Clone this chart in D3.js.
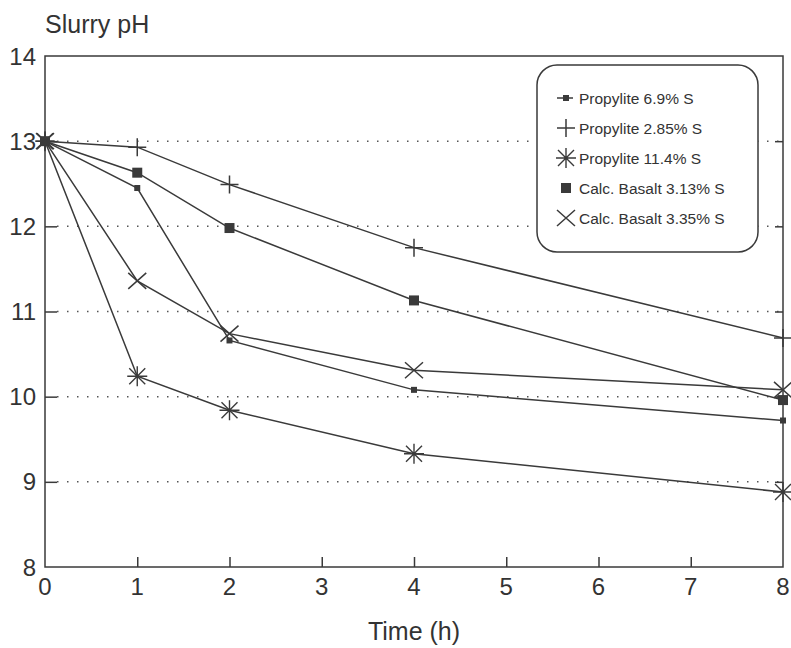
<!DOCTYPE html>
<html><head><meta charset="utf-8">
<script src="https://cdn.jsdelivr.net/npm/d3@7"></script>
<style>
html,body{margin:0;padding:0;background:#fff;}
svg{display:block;font-family:"Liberation Sans",Arial,Helvetica,sans-serif;}
</style></head>
<body><svg id="c" width="791" height="648"></svg>
<script>
const times = [0, 1, 2, 4, 8];
const seriesNames = ["Propylite 6.9% S","Propylite 2.85% S","Propylite 11.4% S","Calc. Basalt 3.13% S","Calc. Basalt 3.35% S"];
const markerTypes = ["smallSquare","plus","asterisk","bigSquare","cross"];
const propylite69 = [13.0, 12.45, 10.66, 10.08, 9.72];
const propylite285 = [13.0, 12.93, 12.49, 11.75, 10.69];
const propylite114 = [13.0, 10.24, 9.84, 9.33, 8.88];
const basalt313 = [13.0, 12.63, 11.98, 11.13, 9.96];
const basalt335 = [13.0, 11.36, 10.74, 10.31, 10.08];
const allValues = [propylite69, propylite285, propylite114, basalt313, basalt335];
const xTicks = [0,1,2,3,4,5,6,7,8];
const yTicks = [8,9,10,11,12,13,14];
const gridValues = [9,10,11,12,13];

const svg = d3.select("#c");
const ink = "#3a3a3a";
const x = d3.scaleLinear().domain([0,8]).range([45,783]);
const y = d3.scaleLinear().domain([8,14]).range([567,56]);

// gridlines (dotted)
svg.append("g").selectAll("line").data(gridValues).join("line")
  .attr("x1", x(0)+12).attr("x2", x(8)-4)
  .attr("y1", d=>y(d)).attr("y2", d=>y(d))
  .attr("stroke","#555").attr("stroke-width",1.5)
  .attr("stroke-dasharray","1.5,8.5").attr("stroke-linecap","butt");

// frame
svg.append("rect").attr("x",x(0)).attr("y",y(14)).attr("width",x(8)-x(0)).attr("height",y(8)-y(14))
  .attr("fill","none").attr("stroke",ink).attr("stroke-width",1.5);

// y axis (inward ticks) left and right
const yAxisL = d3.axisRight(y).tickValues(gridValues).tickSize(12).tickFormat("");
svg.append("g").attr("transform",`translate(${x(0)},0)`).call(yAxisL)
  .call(g=>{g.select(".domain").remove(); g.selectAll("line").attr("stroke",ink).attr("stroke-width",1.5);});
const yAxisR = d3.axisLeft(y).tickValues(gridValues).tickSize(8).tickFormat("");
svg.append("g").attr("transform",`translate(${x(8)},0)`).call(yAxisR)
  .call(g=>{g.select(".domain").remove(); g.selectAll("line").attr("stroke",ink).attr("stroke-width",1.5);});
// y tick labels
svg.append("g").selectAll("text").data(yTicks).join("text")
  .attr("x",36).attr("y",d=>y(d)+8.5).attr("text-anchor","end")
  .attr("font-size",24).attr("fill","#333").text(d=>d);

// x axis ticks inward
const xAxis = d3.axisTop(x).tickValues([1,2,3,4,5,6,7]).tickSize(10).tickFormat("");
svg.append("g").attr("transform",`translate(0,${y(8)})`).call(xAxis)
  .call(g=>{g.select(".domain").remove(); g.selectAll("line").attr("stroke",ink).attr("stroke-width",1.5);});
svg.append("g").selectAll("text").data(xTicks).join("text")
  .attr("x",d=>x(d)).attr("y",595).attr("text-anchor","middle")
  .attr("font-size",24).attr("fill","#333").text(d=>d);

// titles
svg.append("text").attr("x",45).attr("y",33).attr("font-size",25).attr("fill","#333").text("Slurry pH");
svg.append("text").attr("x",x(4)).attr("y",640).attr("text-anchor","middle").attr("font-size",25).attr("fill","#333").text("Time (h)");

// markers
function drawMarker(g, type, cx, cy){
  const s = ink;
  if(type==="smallSquare"){
    g.append("rect").attr("x",cx-3).attr("y",cy-3).attr("width",6).attr("height",6).attr("fill",s);
  } else if(type==="bigSquare"){
    g.append("rect").attr("x",cx-5).attr("y",cy-5).attr("width",10).attr("height",10).attr("fill",s);
  } else if(type==="plus"){
    g.append("path").attr("d",`M${cx-9},${cy}H${cx+9}M${cx},${cy-9}V${cy+9}`).attr("stroke",s).attr("stroke-width",1.5).attr("fill","none");
  } else if(type==="cross"){
    g.append("path").attr("d",`M${cx-9},${cy-8}L${cx+9},${cy+8}M${cx-9},${cy+8}L${cx+9},${cy-8}`)
      .attr("stroke",s).attr("stroke-width",1.5).attr("fill","none");
  } else if(type==="asterisk"){
    g.append("path").attr("d",`M${cx-8},${cy-8}L${cx+8},${cy+8}M${cx-8},${cy+8}L${cx+8},${cy-8}M${cx-10},${cy}H${cx+10}M${cx},${cy-10}V${cy+10}`)
      .attr("stroke",s).attr("stroke-width",1.4).attr("fill","none");
  }
}

const line = d3.line().x((d,i)=>x(times[i])).y(d=>y(d));
allValues.forEach((vals,k)=>{
  const g = svg.append("g");
  g.append("path").datum(vals).attr("d",line).attr("fill","none").attr("stroke",ink).attr("stroke-width",1.5);
  vals.forEach((v,i)=>drawMarker(g, markerTypes[k], x(times[i]), y(v)));
});

// legend
const lg = svg.append("g");
lg.append("rect").attr("x",537).attr("y",65).attr("width",221).attr("height",187).attr("rx",20).attr("ry",20)
  .attr("fill","#fff").attr("stroke",ink).attr("stroke-width",1.5);
seriesNames.forEach((n,i)=>{
  const ly = 98 + i*30;
  if(i===0){ lg.append("line").attr("x1",557).attr("x2",573).attr("y1",ly).attr("y2",ly).attr("stroke",ink).attr("stroke-width",1.5); }
  drawMarker(lg, markerTypes[i], 566, ly);
  lg.append("text").attr("x",579).attr("y",ly+5.5).attr("font-size",15.5).attr("fill","#333").text(n);
});
</script></body></html>
